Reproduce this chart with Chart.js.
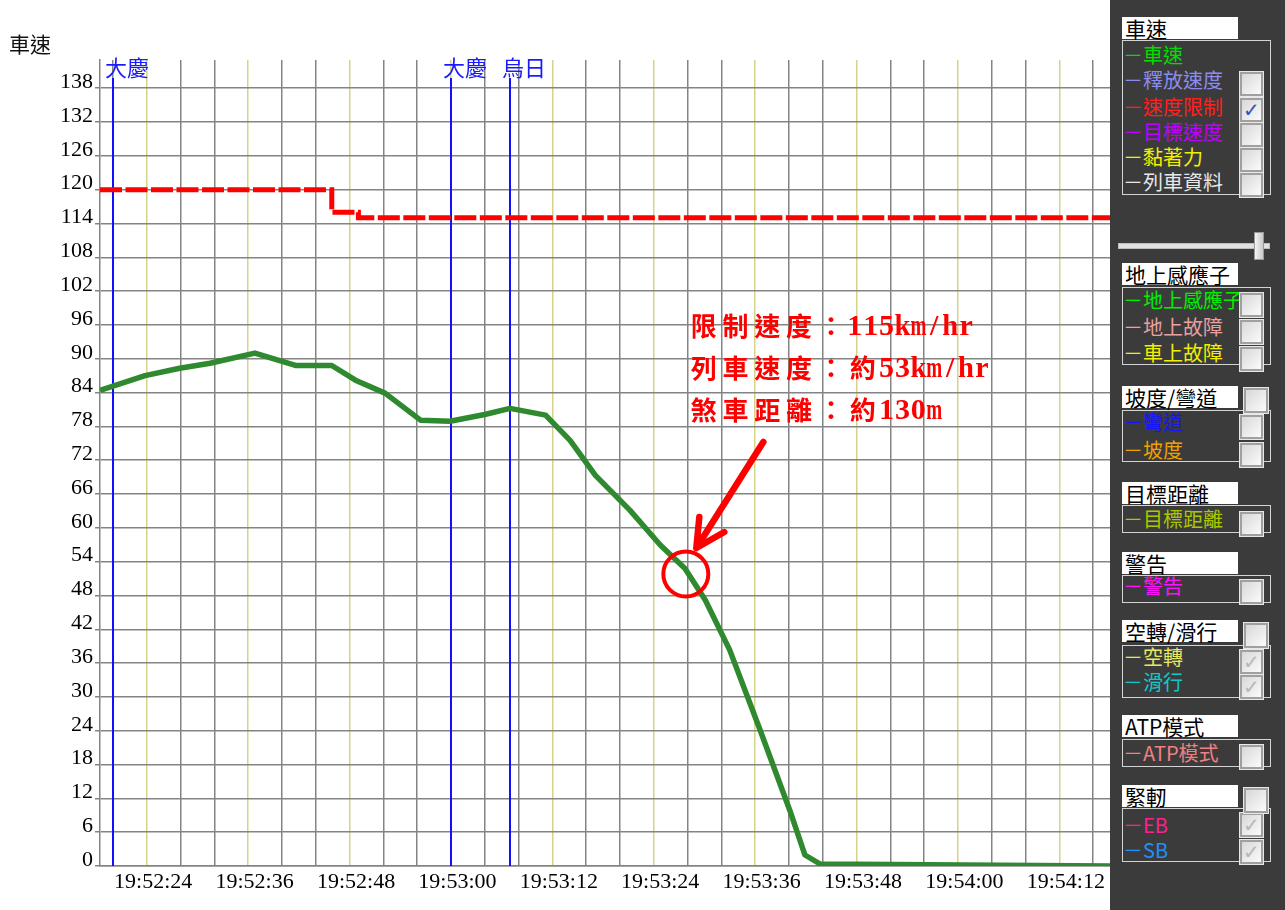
<!DOCTYPE html>
<html><head><meta charset="utf-8">
<script src="https://cdn.jsdelivr.net/npm/chart.js@4/dist/chart.umd.min.js"></script>
<style>
html,body{margin:0;padding:0;background:#fff;width:1285px;height:910px;overflow:hidden;}
#wrap{position:absolute;left:0;top:0;width:1110px;height:910px;}
#panel{position:absolute;left:1110px;top:0;width:175px;height:910px;background:#3b3b3b;font-family:"Noto Sans CJK TC",sans-serif;}
.hdr{position:absolute;left:12px;width:116px;height:22px;background:#fff;color:#000;font-size:21px;line-height:22px;white-space:nowrap;padding-left:3px;box-sizing:border-box;}
.box{position:absolute;left:12px;width:149px;border:1px solid #d4d4d4;box-sizing:border-box;}
.item{position:absolute;left:13px;width:146px;overflow:hidden;font-size:20px;line-height:24px;height:24px;white-space:nowrap;}
.cb{position:absolute;width:23px;height:24px;box-sizing:border-box;border:2px solid #a0a0a0;outline:1px solid #e8e8e8;background:linear-gradient(135deg,#d8d8d8,#fbfbfb);font-size:20px;line-height:20px;text-align:center;font-family:"DejaVu Sans",sans-serif;}
.track{position:absolute;left:8px;top:243px;width:150px;height:4px;background:#e0e0e0;border:1px solid #bdbdbd;}
.thumb{position:absolute;left:144px;top:232px;width:8px;height:26px;background:linear-gradient(90deg,#f5f5f5,#c8c8c8);border:1px solid #999;}
</style></head>
<body>
<div id="wrap"><canvas id="c" width="1110" height="910"></canvas></div>
<div id="panel"></div>
<script>
// ---- data ----
const speedTimes  = [18.47, 23.8, 27.9, 31.5, 36.8, 41.6, 45.9, 48.7, 52.2, 56.4, 59.9, 64.0, 67.0, 71.2, 74.1, 77.1, 81.2, 84.8, 87.7, 90.1, 93.0, 96.6, 100.1, 101.9, 103.7, 138];
const speedValues = [84.4, 87.0, 88.3, 89.2, 91.0, 88.8, 88.8, 86.2, 83.9, 79.1, 78.9, 80.1, 81.2, 80.0, 75.5, 69.3, 63.1, 56.9, 52.8, 47.2, 38.3, 24.1, 9.9, 1.95, 0.35, 0];
const limitTimes  = [18.47, 45.9, 49.05, 138];
const limitValues = [120, 116, 115, 115];
const stationTimes = [20, 60, 67];
const stationNames = ['大慶', '大慶', '烏日'];
const xGridTimes = [20,24,28,32,36,40,44,48,52,56,60,64,68,72,76,80,84,88,92,96,100,104,108,112,116,120,124,128,132,136];
const xLabelTimes = [24, 36, 48, 60, 72, 84, 96, 108, 120, 132];
const xLabels = ['19:52:24','19:52:36','19:52:48','19:53:00','19:53:12','19:53:24','19:53:36','19:53:48','19:54:00','19:54:12'];
const yTicks = [0,6,12,18,24,30,36,42,48,54,60,66,72,78,84,90,96,102,108,114,120,126,132,138];
const yTitle = '車速';
const noteLines = ['限制速度：115km/hr', '列車速度：約53km/hr', '煞車距離：約130m'];
const circleT = 87.8, circleV = 51.8;

// ---- chart ----
const GREY = '#848484', YEL = '#d6d38a';
const overlay = {
  id: 'overlay',
  beforeDatasetsDraw(chart) {
    const {ctx, chartArea: a, scales: {x}} = chart;
    ctx.save();
    ctx.strokeStyle = '#1010ff'; ctx.lineWidth = 2;
    stationTimes.forEach(t => {
      const px = Math.round(x.getPixelForValue(t));
      ctx.beginPath(); ctx.moveTo(px, a.top + 18); ctx.lineTo(px, a.bottom); ctx.stroke();
    });
    ctx.restore();
  },
  afterDraw(chart) {
    const {ctx, scales: {x, y}} = chart;
    ctx.save();
    // y title
    ctx.fillStyle = '#111'; ctx.font = '21px "Noto Sans CJK TC"'; ctx.textBaseline = 'middle'; ctx.textAlign = 'left';
    ctx.fillText(yTitle, 9, 44);
    // station labels
    ctx.fillStyle = '#1a1aff'; ctx.font = '22px "Noto Sans CJK TC"';
    stationTimes.forEach((t, i) => {
      ctx.fillText(stationNames[i], Math.round(x.getPixelForValue(t)) - 8, 68);
    });
    // annotation text (monospaced cells like the original)
    const x0 = x.getPixelForValue(circleT) + 2;
    let yy = 326;
    ctx.fillStyle = '#ff0000';
    noteLines.forEach(line => {
      let cx = x0;
      for (const ch of line) {
        const ascii = ch.charCodeAt(0) < 128;
        const w = ascii ? 15.9 : 31.8;
        ctx.textAlign = 'center';
        if (ascii) { ctx.font = 'bold 30px "Liberation Serif"'; ctx.fillText(ch, cx + w / 2, yy + 1, w); }
        else { ctx.font = 'bold 26px "Noto Sans CJK TC"'; ctx.fillText(ch, cx + w / 2, yy); }
        cx += w;
      }
      yy += 42;
    });
    // circle
    const cxp = x.getPixelForValue(circleT), cyp = y.getPixelForValue(circleV);
    ctx.strokeStyle = '#ff0000'; ctx.lineWidth = 4;
    ctx.beginPath(); ctx.arc(cxp, cyp, 22.5, 0, Math.PI * 2); ctx.stroke();
    // arrow
    ctx.lineWidth = 6.5; ctx.lineCap = 'round'; ctx.lineJoin = 'round';
    const tip = [cxp + 10.5, cyp - 26];
    ctx.beginPath();
    ctx.moveTo(cxp + 77.5, cyp - 132); ctx.lineTo(tip[0], tip[1]);
    ctx.moveTo(cxp + 13.5, cyp - 57); ctx.lineTo(tip[0], tip[1]); ctx.lineTo(cxp + 38.5, cyp - 42);
    ctx.stroke();
    ctx.restore();
  }
};

new Chart(document.getElementById('c'), {
  type: 'line',
  data: {
    datasets: [
      { label: '速度限制', data: limitTimes.map((t, i) => ({x: t, y: limitValues[i]})), stepped: true,
        borderColor: '#ff0000', borderWidth: 5, borderDash: [22, 3.5], borderCapStyle: 'butt', pointRadius: 0, fill: false },
      { label: '車速', data: speedTimes.map((t, i) => ({x: t, y: speedValues[i]})),
        borderColor: '#2f8a2f', borderWidth: 5.5, pointRadius: 0, tension: 0, borderJoinStyle: 'round', fill: false }
    ]
  },
  options: {
    responsive: false, animation: false, devicePixelRatio: 1,
    layout: { padding: { top: 60, left: 0, right: 0, bottom: 0 } },
    plugins: { legend: { display: false }, tooltip: { enabled: false } },
    scales: {
      x: {
        type: 'linear', min: 18.47, max: 138,
        afterBuildTicks: s => { s.ticks = xGridTimes.map(v => ({value: v})); },
        afterFit: s => { s.height = 44; },
        ticks: { autoSkip: false, maxRotation: 0, minRotation: 0, padding: 3, labelOffset: 6.5, color: '#000',
          font: { family: 'Liberation Serif', size: 22 },
          callback: v => { const i = xLabelTimes.indexOf(v); return i >= 0 ? xLabels[i] : ''; } },
        grid: { color: c => (c.tick && xLabelTimes.includes(c.tick.value)) ? YEL : GREY, lineWidth: 1.5, drawTicks: false, tickLength: 0 },
        border: { color: GREY, width: 1.5 }
      },
      y: {
        type: 'linear', min: 0, max: 143,
        afterBuildTicks: s => { s.ticks = yTicks.map(v => ({value: v})); },
        afterFit: s => { s.width = 100; },
        ticks: { padding: 2, labelOffset: -6, color: '#000', font: { family: 'Liberation Serif', size: 22 } },
        grid: { color: GREY, lineWidth: 1.5, tickLength: 5 },
        border: { color: GREY, width: 1.5 }
      }
    }
  },
  plugins: [overlay]
});

// ---- side panel ----
const panelGroups = [
  { title: '車速', hy: 17, box: [40, 155], items: [['車速', '#00dd00', 43, null], ['釋放速度', '#8c8cf0', 68, 72], ['速度限制', '#ff2020', 95, 98], ['目標速度', '#c000ff', 120, 123], ['黏著力', '#f0f000', 145, 148], ['列車資料', '#e8e8e8', 170, 173]], checked: ['速度限制'] },
  { title: '地上感應子', hy: 263, box: [287, 78], items: [['地上感應子', '#00ee00', 288, 293], ['地上故障', '#e8a0a0', 315, 320], ['車上故障', '#f0f000', 341, 347]] },
  { title: '坡度/彎道', hy: 386, hcb: 388, box: [410, 52], items: [['彎道', '#1414ff', 410, 415], ['坡度', '#f0a000', 438, 443]] },
  { title: '目標距離', hy: 482, box: [505, 28], items: [['目標距離', '#a8c800', 507, 512]] },
  { title: '警告', hy: 552, box: [575, 28], items: [['警告', '#ff10ff', 574, 580]] },
  { title: '空轉/滑行', hy: 620, hcb: 623, box: [645, 53], items: [['空轉', '#e8e860', 645, 650], ['滑行', '#10c8c8', 670, 675]], grey: true },
  { title: 'ATP模式', hy: 715, box: [739, 28], items: [['ATP模式', '#f08080', 741, 745]] },
  { title: '緊軔', hy: 785, hcb: 788, box: [808, 54], items: [['EB', '#ff2090', 813, 813], ['SB', '#2090ff', 838, 840]], grey: true }
];
const panel = document.getElementById('panel');
function el(cls, css, txt) { const d = document.createElement('div'); d.className = cls; Object.assign(d.style, css); if (txt) d.textContent = txt; panel.appendChild(d); return d; }
panelGroups.forEach(g => {
  el('hdr', { top: g.hy + 'px' }, g.title);
  el('box', { top: g.box[0] + 'px', height: g.box[1] + 'px' });
  g.items.forEach(it => {
    el('item', { top: it[2] + 'px', color: it[1] }, '－' + it[0]);
  });
  g.items.forEach(it => {
    if (it[3] == null) return;
    const cb = el('cb', { top: it[3] + 'px', left: '130px' });
    if (g.checked && g.checked.includes(it[0])) { cb.textContent = '✓'; cb.style.color = '#3a55b0'; cb.style.fontWeight = 'bold'; }
    if (g.grey) { cb.textContent = '✓'; cb.style.color = '#b8b8b8'; }
  });
  if (g.hcb) el('cb', { top: g.hcb + 'px', left: '134px', width: '24px', height: '25px' });
});
el('track', {});
el('thumb', {});
</script>
</body></html>
